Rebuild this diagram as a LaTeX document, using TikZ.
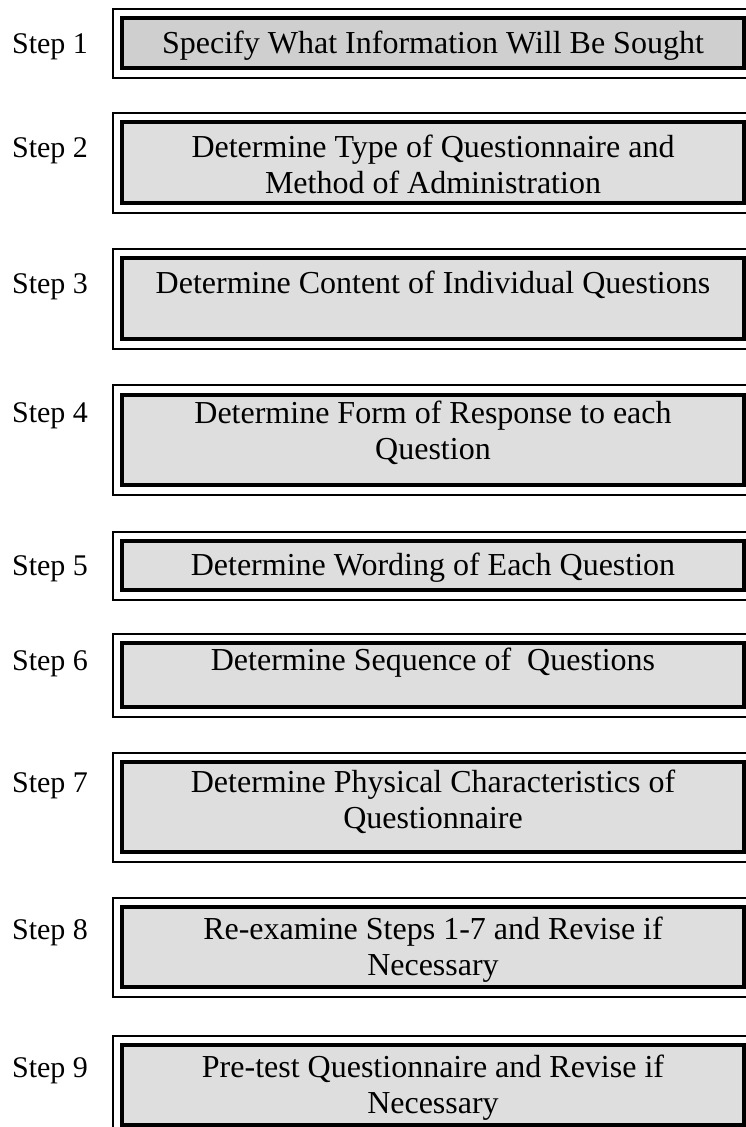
\documentclass[tikz,border=0pt]{standalone}
\usepackage{fontspec}
\setmainfont{Liberation Serif}
\usepackage{tikz}

\tikzset{
  stepbox/.style={rectangle, draw, line width=3.5pt, fill=black!13, minimum width=622pt},
  outerframe/.style={line width=2.2pt},
  boxtext/.style={font=\fontsize{32}{36}\selectfont, align=center, inner sep=0pt, anchor=base},
  steplabel/.style={font=\fontsize{30}{36}\selectfont, inner sep=0pt, anchor=base},
}

\begin{document}
\begin{tikzpicture}[x=1pt, y=-1pt]
      % Variables
      \def \boxx {433}
      \def \lblx {50}

      \useasboundingbox (0,0) rectangle (746,1127);

      % Boxes
      \node[stepbox, fill=black!19, minimum height=50pt] (box1) at (\boxx,43) {};
      \node[stepbox, minimum height=81pt] (box2) at (\boxx,162.5) {};
      \node[stepbox, minimum height=81pt] (box3) at (\boxx,298.5) {};
      \node[stepbox, minimum height=90pt] (box4) at (\boxx,440) {};
      \node[stepbox, minimum height=49pt] (box5) at (\boxx,565.5) {};
      \node[stepbox, minimum height=64pt] (box6) at (\boxx,675) {};
      \node[stepbox, minimum height=90pt] (box7) at (\boxx,807) {};
      \node[stepbox, minimum height=80pt] (box8) at (\boxx,947) {};
      \node[stepbox, minimum height=80pt] (box9) at (\boxx,1085) {};

      % Outer frames
      \draw[outerframe] ([shift={(-7pt,7pt)}]box1.north west) rectangle ([shift={(8pt,-8pt)}]box1.south east);
      \draw[outerframe] ([shift={(-7pt,7pt)}]box2.north west) rectangle ([shift={(8pt,-8pt)}]box2.south east);
      \draw[outerframe] ([shift={(-7pt,7pt)}]box3.north west) rectangle ([shift={(8pt,-8pt)}]box3.south east);
      \draw[outerframe] ([shift={(-7pt,8pt)}]box4.north west) rectangle ([shift={(8pt,-8pt)}]box4.south east);
      \draw[outerframe] ([shift={(-7pt,7pt)}]box5.north west) rectangle ([shift={(8pt,-8pt)}]box5.south east);
      \draw[outerframe] ([shift={(-7pt,7pt)}]box6.north west) rectangle ([shift={(8pt,-8pt)}]box6.south east);
      \draw[outerframe] ([shift={(-7pt,7pt)}]box7.north west) rectangle ([shift={(8pt,-8pt)}]box7.south east);
      \draw[outerframe] ([shift={(-7pt,7pt)}]box8.north west) rectangle ([shift={(8pt,-8pt)}]box8.south east);
      \draw[outerframe] ([shift={(-7pt,7pt)}]box9.north west) rectangle ([shift={(8pt,-8pt)}]box9.south east);

      % Box texts (base = last line)
      \node[boxtext] (txt1) at (\boxx,53) {Specify What Information Will Be Sought};
      \node[boxtext] (txt2) at (\boxx,193) {Determine Type of Questionnaire and\\Method of Administration};
      \node[boxtext] (txt3) at (\boxx,293) {Determine Content of Individual Questions};
      \node[boxtext] (txt4) at (\boxx,459) {Determine Form of Response to each\\Question};
      \node[boxtext] (txt5) at (\boxx,575) {Determine Wording of Each Question};
      \node[boxtext] (txt6) at (\boxx,670) {Determine Sequence of\ \ Questions};
      \node[boxtext] (txt7) at (\boxx,828) {Determine Physical Characteristics of\\Questionnaire};
      \node[boxtext] (txt8) at (\boxx,975) {Re-examine Steps 1-7 and Revise if\\Necessary};
      \node[boxtext] (txt9) at (\boxx,1113) {Pre-test Questionnaire and Revise if\\Necessary};

      % Step labels
      \node[steplabel] (lbl1) at (\lblx,53) {Step 1};
      \node[steplabel] (lbl2) at (\lblx,157) {Step 2};
      \node[steplabel] (lbl3) at (\lblx,293) {Step 3};
      \node[steplabel] (lbl4) at (\lblx,422) {Step 4};
      \node[steplabel] (lbl5) at (\lblx,575) {Step 5};
      \node[steplabel] (lbl6) at (\lblx,670) {Step 6};
      \node[steplabel] (lbl7) at (\lblx,792) {Step 7};
      \node[steplabel] (lbl8) at (\lblx,939) {Step 8};
      \node[steplabel] (lbl9) at (\lblx,1077) {Step 9};

\end{tikzpicture}
\end{document}
